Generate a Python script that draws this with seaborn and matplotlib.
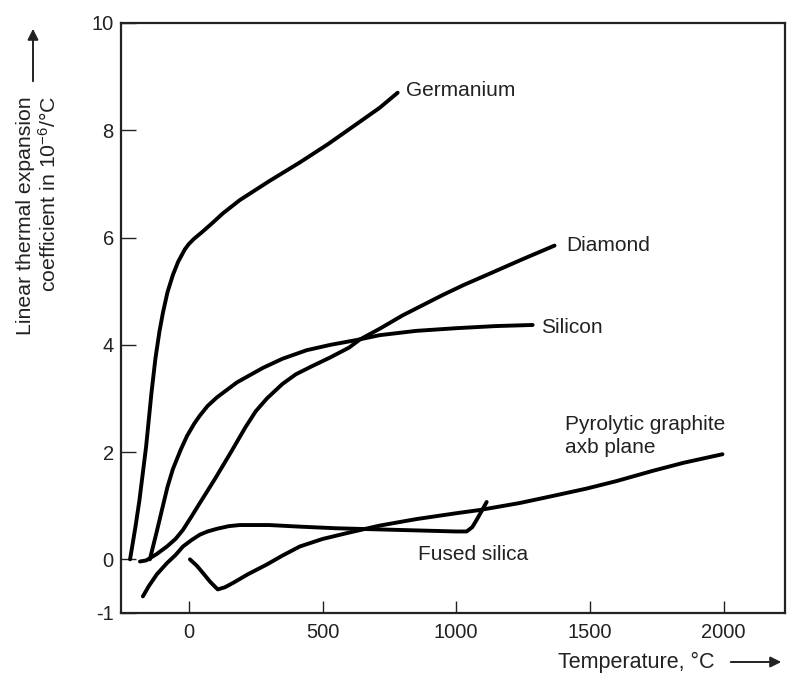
import matplotlib
matplotlib.use("Agg")
import matplotlib.pyplot as plt
import seaborn as sns
import pandas as pd

# ---- data ----
ge_T = [-220, -200, -185, -170, -160, -150, -140, -125, -110, -97, -80, -60, -40, -15, 0, 20, 49, 90, 127, 191, 300, 415, 520, 600, 714, 781]
ge_a = [0.0, 0.6, 1.1, 1.7, 2.1, 2.6, 3.1, 3.75, 4.25, 4.6, 4.98, 5.3, 5.55, 5.78, 5.88, 5.98, 6.1, 6.28, 6.45, 6.7, 7.05, 7.4, 7.74, 8.02, 8.42, 8.7]

si_T = [-146, -135, -120, -97, -80, -60, -30, -7, 20, 41, 70, 105, 180, 277, 350, 441, 530, 628, 714, 850, 1000, 1150, 1286]
si_a = [0.0, 0.22, 0.52, 1.0, 1.35, 1.68, 2.05, 2.3, 2.53, 2.68, 2.86, 3.02, 3.3, 3.57, 3.74, 3.9, 4.0, 4.09, 4.18, 4.26, 4.31, 4.35, 4.37]

di_T = [-183, -160, -146, -120, -82, -50, -22, 10, 41, 70, 100, 130, 160, 210, 250, 292, 350, 400, 460, 527, 600, 640, 714, 800, 950, 1030, 1113, 1250, 1368]
di_a = [-0.04, -0.02, 0.02, 0.1, 0.24, 0.38, 0.55, 0.8, 1.05, 1.28, 1.52, 1.77, 2.02, 2.45, 2.76, 3.0, 3.27, 3.45, 3.6, 3.76, 3.95, 4.1, 4.3, 4.55, 4.93, 5.12, 5.3, 5.6, 5.85]

fs_T = [-172, -150, -120, -82, -50, -22, 10, 41, 70, 105, 150, 191, 300, 415, 550, 700, 850, 1000, 1039, 1060, 1077, 1095, 1114]
fs_a = [-0.69, -0.5, -0.28, -0.07, 0.08, 0.24, 0.36, 0.46, 0.52, 0.57, 0.62, 0.64, 0.64, 0.61, 0.58, 0.56, 0.54, 0.52, 0.52, 0.6, 0.74, 0.9, 1.07]

pg_T = [4, 30, 52, 80, 108, 135, 165, 220, 290, 350, 415, 500, 600, 714, 850, 1000, 1088, 1237, 1350, 1488, 1600, 1735, 1850, 1996]
pg_a = [0.0, -0.12, -0.25, -0.42, -0.56, -0.52, -0.44, -0.28, -0.1, 0.07, 0.24, 0.38, 0.5, 0.63, 0.75, 0.86, 0.92, 1.05, 1.17, 1.32, 1.46, 1.65, 1.8, 1.96]

x_ticks = [0, 500, 1000, 1500, 2000]
y_ticks = [-1, 0, 2, 4, 6, 8, 10]

labels = ["Germanium", "Diamond", "Silicon", "Pyrolytic graphite\naxb plane", "Fused silica"]

# ---- style ----
sns.set_style("ticks")
plt.rcParams["font.family"] = ["Liberation Sans", "DejaVu Sans"]
plt.rcParams["mathtext.default"] = "regular"

fig = plt.figure(figsize=(7.89, 6.84), dpi=100)
ax = fig.add_axes([120.7 / 789, 1 - 613 / 684, (785 - 120.7) / 789, (613 - 23) / 684])

series = [(ge_T, ge_a), (si_T, si_a), (di_T, di_a), (fs_T, fs_a), (pg_T, pg_a)]
for T, a in series:
    df = pd.DataFrame({"T": T, "a": a})
    sns.lineplot(data=df, x="T", y="a", ax=ax, sort=False, estimator=None,
                 color="black", linewidth=2.8, solid_capstyle="round", solid_joinstyle="round")

ax.set_xlim(-255, 2230)
ax.set_ylim(-1, 10)
ax.set_xticks(x_ticks)
ax.set_yticks(y_ticks)
ax.set_xticklabels([str(v) for v in x_ticks])
ax.set_yticklabels([str(v) for v in y_ticks])
ax.tick_params(axis="both", direction="in", labelsize=14.5, colors="#222222", width=1.0)
ax.tick_params(axis="y", length=11, pad=5)
ax.tick_params(axis="x", length=9, pad=7)
for s in ax.spines.values():
    s.set_linewidth(1.6)
    s.set_color("#222222")
ax.set_xlabel("")
ax.set_ylabel("")

# curve labels
fs = 15
ax.text(811, 8.75, labels[0], fontsize=fs, va="center", ha="left", color="#222222")
ax.text(1412, 5.85, labels[1], fontsize=fs, va="center", ha="left", color="#222222")
ax.text(1318, 4.32, labels[2], fontsize=fs, va="center", ha="left", color="#222222")
ax.text(1407, 2.3, labels[3], fontsize=fs, va="center", ha="left", color="#222222", linespacing=1.25)
ax.text(856, 0.09, labels[4], fontsize=fs, va="center", ha="left", color="#222222")

# axis titles with arrows
W, H = 789, 684
fig.text(38 / W, 1 - 96 / H, "Linear thermal expansion\ncoefficient in 10$^{-6}$/°C",
         rotation=90, ha="center", va="top", multialignment="right", fontsize=15.3, color="#222222",
         linespacing=1.2)
fig.add_artist(matplotlib.patches.FancyArrowPatch((33 / W, 1 - 84 / H), (33 / W, 1 - 26 / H),
               transform=fig.transFigure, arrowstyle="-|>", mutation_scale=16, linewidth=1.4, color="#222222"))
fig.text(558 / W, 1 - 662 / H, "Temperature, °C", ha="left", va="center", fontsize=15.5, color="#222222")
fig.add_artist(matplotlib.patches.FancyArrowPatch((728 / W, 1 - 662 / H), (784 / W, 1 - 662 / H),
               transform=fig.transFigure, arrowstyle="-|>", mutation_scale=16, linewidth=1.4, color="#222222"))

fig.savefig("out.png", dpi=100)
